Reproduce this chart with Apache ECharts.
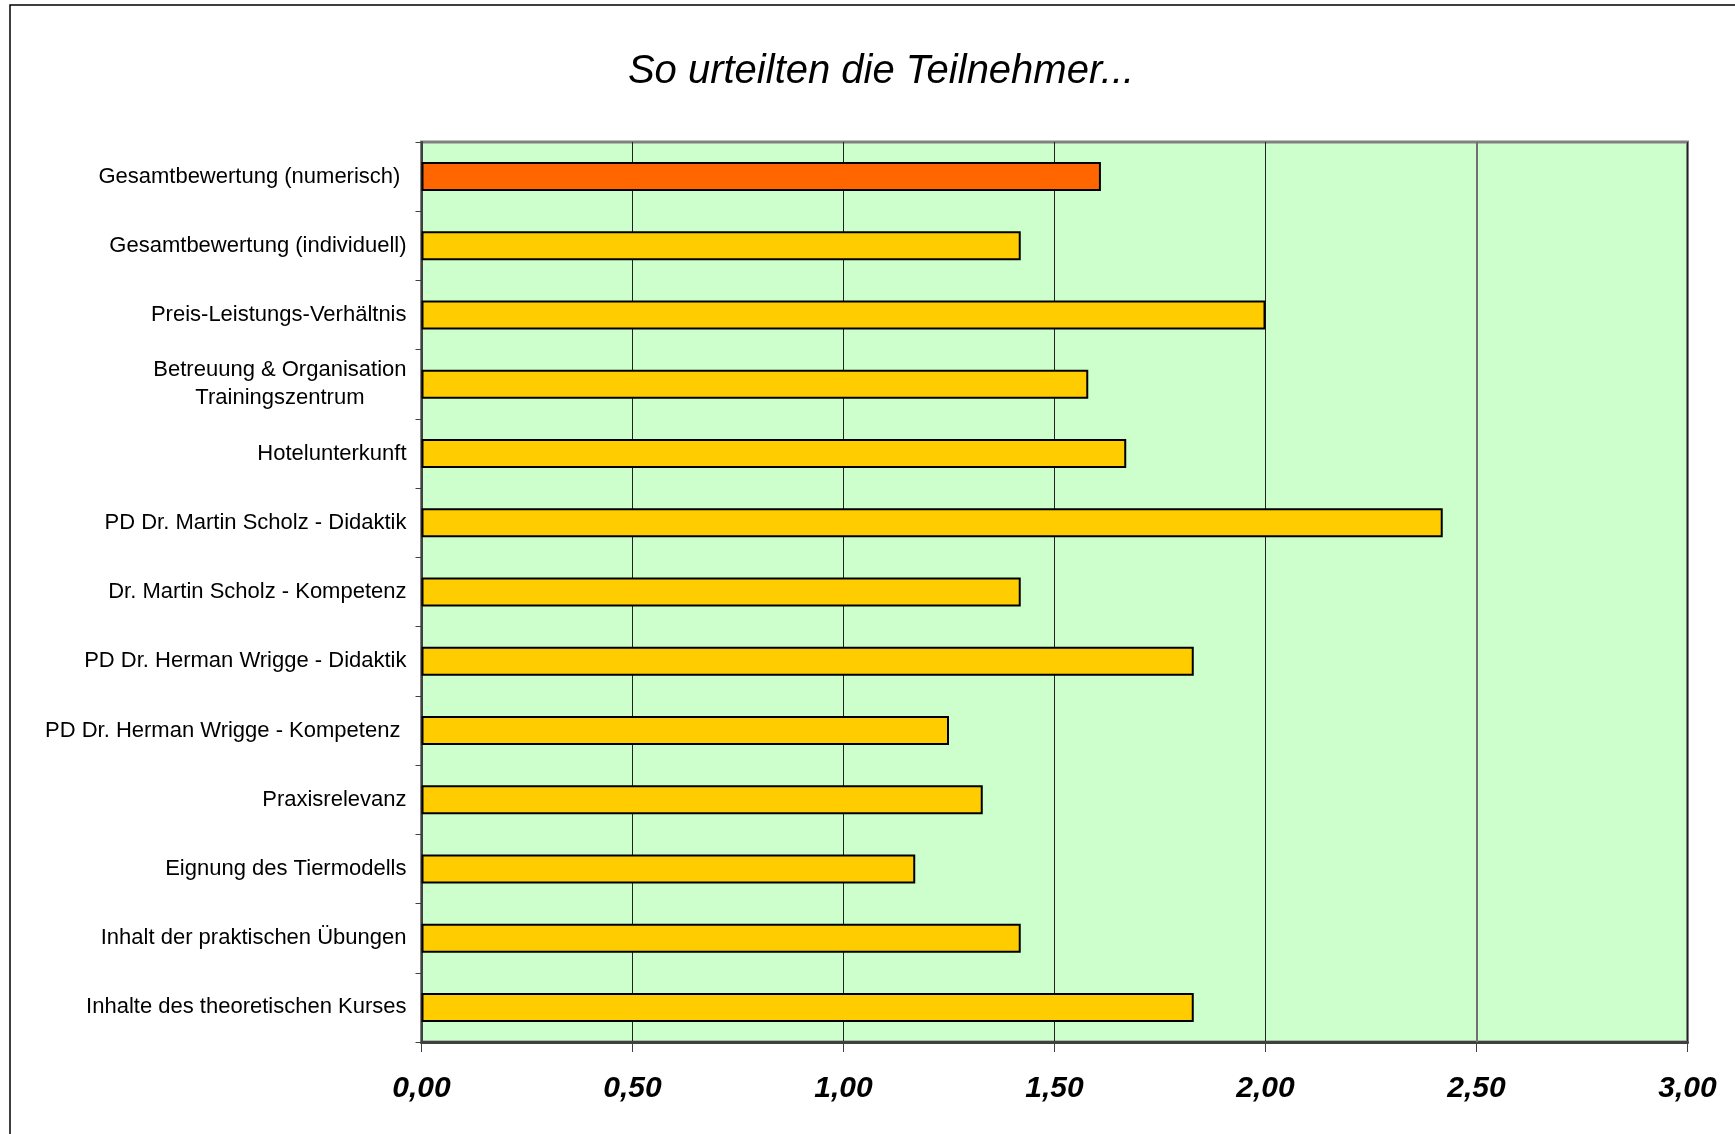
<!DOCTYPE html>
<html>
<head>
<meta charset="utf-8">
<script src="https://cdn.jsdelivr.net/npm/echarts@6/dist/echarts.min.js"></script>
<style>
html,body{margin:0;padding:0;background:#fff;}
#chart{width:1735px;height:1134px;}
</style>
</head>
<body>
<div id="chart"></div>
<script>
const titleText = 'So urteilten die Teilnehmer...';
const categories = [
  'Gesamtbewertung (numerisch) ',
  'Gesamtbewertung (individuell)',
  'Preis-Leistungs-Verhältnis',
  'Betreuung & Organisation\nTrainingszentrum',
  'Hotelunterkunft',
  'PD Dr. Martin Scholz - Didaktik',
  'Dr. Martin Scholz - Kompetenz',
  'PD Dr. Herman Wrigge - Didaktik',
  'PD Dr. Herman Wrigge - Kompetenz ',
  'Praxisrelevanz',
  'Eignung des Tiermodells',
  'Inhalt der praktischen Übungen',
  'Inhalte des theoretischen Kurses'
];
const values = [1.61, 1.42, 2.00, 1.58, 1.67, 2.42, 1.42, 1.83, 1.25, 1.33, 1.17, 1.42, 1.83];
const highlightIndex = 0;

const FONT = 'Liberation Sans, Arial, sans-serif';
const chart = echarts.init(document.getElementById('chart'), null, {renderer: 'canvas'});
const option = {
  animation: false,
  backgroundColor: '#ffffff',
  title: {
    text: titleText,
    left: 876, top: 47, textAlign: 'center',
    textStyle: {fontFamily: FONT, fontStyle: 'italic', fontWeight: 'normal', fontSize: 40, color: '#000'}
  },
  graphic: [{
    type: 'rect', silent: true, z: -10,
    shape: {x: 10, y: 5, width: 1900, height: 1300},
    style: {fill: 'none', stroke: '#000', lineWidth: 1.5}
  }],
  grid: {
    left: 421.5, right: 47.5, top: 142, bottom: 92,
    show: true, backgroundColor: '#CCFFCC', borderColor: '#808080', borderWidth: 3
  },
  xAxis: {
    type: 'value', min: 0, max: 3, interval: 0.5,
    axisLine: {show: true, lineStyle: {color: '#404040', width: 3}},
    axisTick: {show: true, length: 10, lineStyle: {color: '#404040', width: 1}},
    splitLine: {show: true, lineStyle: {color: '#222222', width: 1}},
    axisLabel: {
      margin: 32,
      fontFamily: FONT, fontStyle: 'italic', fontWeight: 'bold', fontSize: 30, color: '#000',
      formatter: v => v.toFixed(2).replace('.', ',')
    }
  },
  yAxis: {
    type: 'category', data: categories, inverse: true,
    axisLine: {show: true, lineStyle: {color: '#404040', width: 2}},
    axisTick: {show: true, length: 6, inside: false, lineStyle: {color: '#404040'}},
    splitLine: {show: false},
    axisLabel: {
      margin: 15, color: '#000',
      fontFamily: FONT, fontSize: 22,
      formatter: v => v.split('\n').map(s => '{c|' + s + '}').join('\n'),
      rich: {c: {align: 'center', fontFamily: FONT, fontSize: 22, lineHeight: 28, color: '#000'}}
    }
  },
  series: [{
    type: 'bar',
    data: values.map((v, i) => ({
      value: v,
      itemStyle: {color: i === highlightIndex ? '#FF6600' : '#FFCC00'}
    })),
    barWidth: 29,
    itemStyle: {borderColor: '#000', borderWidth: 2},
    markLine: {
      silent: true, symbol: 'none', label: {show: false},
      lineStyle: {color: '#707070', width: 2, type: 'solid'},
      data: [{xAxis: 2.5}]
    },
    z: 3
  }]
};
chart.setOption(option);
</script>
</body>
</html>
